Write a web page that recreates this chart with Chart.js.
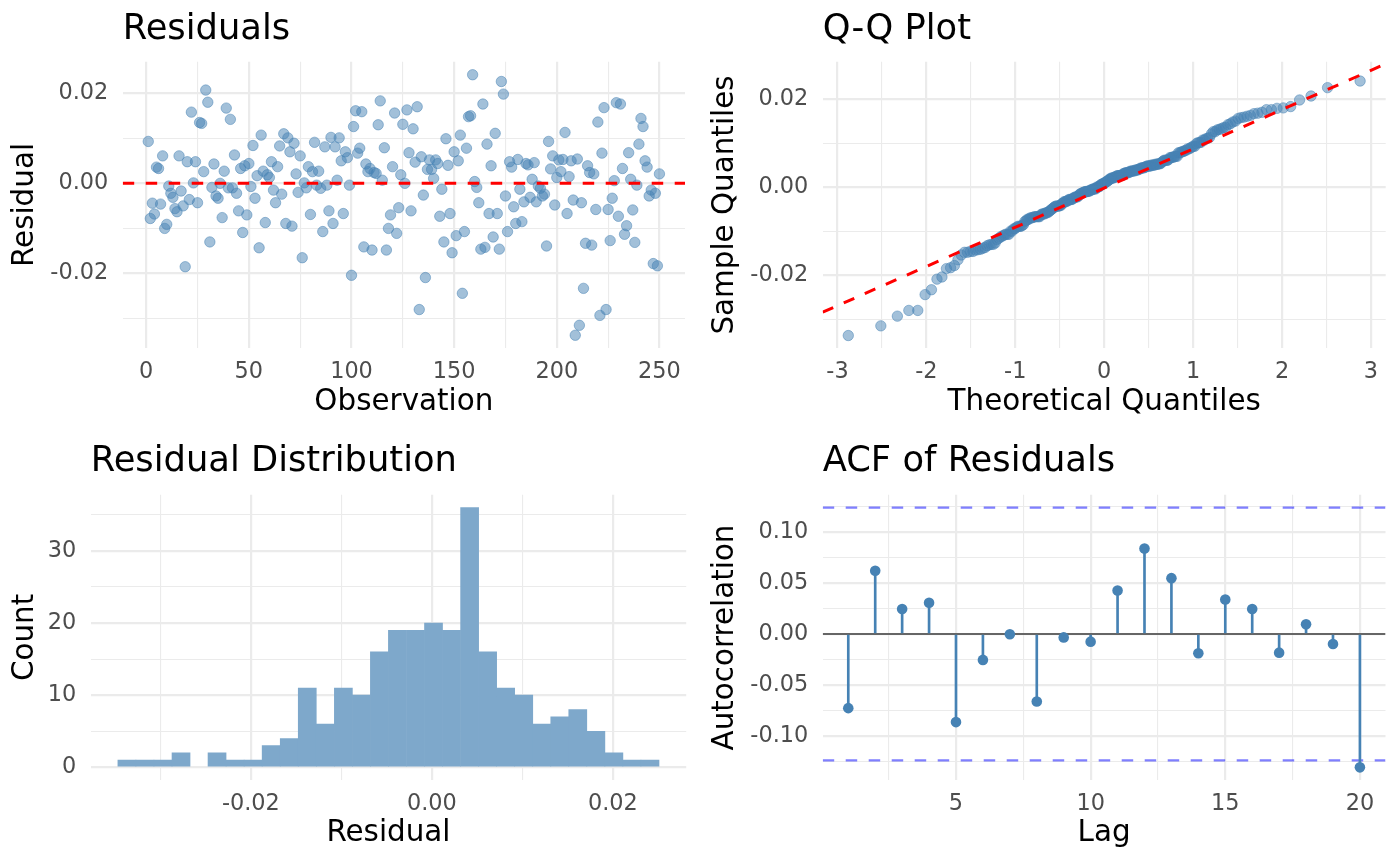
<!DOCTYPE html>
<html>
<head>
<meta charset="utf-8">
<script src="https://cdn.jsdelivr.net/npm/chart.js@4.4.1/dist/chart.umd.min.js"></script>
<style>
  html, body { margin: 0; padding: 0; background: #ffffff; }
  #wrap { position: relative; width: 1400px; height: 865px; overflow: hidden; }
  #wrap canvas { position: absolute; }
</style>
</head>
<body>
<div id="wrap">
  <canvas id="resPlot"  width="700" height="432" style="left:0px;top:0px"></canvas>
  <canvas id="qqPlot"   width="700" height="432" style="left:700px;top:0px"></canvas>
  <canvas id="histPlot" width="700" height="433" style="left:0px;top:432px"></canvas>
  <canvas id="acfPlot"  width="700" height="433" style="left:700px;top:432px"></canvas>
</div>
<script>
/* Data */

// Residual per observation (observation = index + 1)
const residuals = [
   0.0093, -0.0078, -0.0044, -0.0068,  0.0036,  0.0033, -0.0046,  0.0061, -0.0100, -0.0091,
  -0.0006, -0.0022, -0.0031, -0.0056, -0.0063,  0.0061, -0.0017, -0.0050, -0.0185,  0.0048,
  -0.0036,  0.0158,  0.0001,  0.0048, -0.0043,  0.0135,  0.0133,  0.0026,  0.0207,  0.0180,
  -0.0130, -0.0009,  0.0043, -0.0028, -0.0033,  0.0000, -0.0076,  0.0027,  0.0167, -0.0010,
   0.0142, -0.0010,  0.0063, -0.0022, -0.0061,  0.0033, -0.0109,  0.0039, -0.0070,  0.0044,
  -0.0007,  0.0084, -0.0033,  0.0017, -0.0143,  0.0107,  0.0027, -0.0087,  0.0019,  0.0013,
   0.0048, -0.0015, -0.0043,  0.0037,  0.0083, -0.0024,  0.0110, -0.0089,  0.0101,  0.0070,
  -0.0095,  0.0089,  0.0021, -0.0020,  0.0061, -0.0165,  0.0001, -0.0010,  0.0037, -0.0069,
   0.0026,  0.0091, -0.0004,  0.0027, -0.0011, -0.0107,  0.0081, -0.0004, -0.0061,  0.0102,
  -0.0089,  0.0081,  0.0007,  0.0101,  0.0050, -0.0067,  0.0070,  0.0057, -0.0004, -0.0204,
   0.0126,  0.0161,  0.0067,  0.0078,  0.0159, -0.0141,  0.0043,  0.0026,  0.0033, -0.0148,
   0.0024,  0.0022,  0.0130,  0.0183,  0.0007,  0.0079, -0.0148, -0.0100, -0.0070,  0.0037,
   0.0156, -0.0111, -0.0054,  0.0019,  0.0131,  0.0000,  0.0163,  0.0068, -0.0061,  0.0121,
   0.0047,  0.0170, -0.0280,  0.0059, -0.0026, -0.0209,  0.0031,  0.0052,  0.0031,  0.0011,
   0.0052,  0.0044, -0.0073, -0.0013, -0.0130,  0.0099,  0.0040, -0.0067, -0.0154,  0.0070,
  -0.0116,  0.0050,  0.0107, -0.0244, -0.0107,  0.0078,  0.0148,  0.0150,  0.0241,  0.0004,
  -0.0009, -0.0043, -0.0146,  0.0176, -0.0142,  0.0087, -0.0067,  0.0039, -0.0119,  0.0111,
  -0.0067, -0.0146,  0.0226,  0.0198, -0.0028, -0.0107,  0.0048,  0.0036, -0.0052, -0.0089,
   0.0053, -0.0013, -0.0085, -0.0041,  0.0044,  0.0041, -0.0031,  0.0009,  0.0046, -0.0041,
  -0.0006, -0.0011, -0.0028, -0.0024, -0.0139,  0.0093,  0.0032,  0.0061, -0.0048,  0.0013,
   0.0052,  0.0026,  0.0053,  0.0113, -0.0067,  0.0015,  0.0050, -0.0037, -0.0337,  0.0054,
  -0.0315, -0.0043, -0.0233, -0.0133,  0.0039,  0.0024, -0.0137,  0.0021, -0.0058,  0.0136,
  -0.0293,  0.0067,  0.0168, -0.0280, -0.0058, -0.0127, -0.0033,  0.0006,  0.0179, -0.0073,
   0.0176,  0.0033, -0.0113, -0.0094,  0.0068,  0.0009, -0.0059, -0.0131, -0.0004,  0.0087,
   0.0144,  0.0126,  0.0050,  0.0036, -0.0028, -0.0015, -0.0178, -0.0022, -0.0183,  0.0021
];

// Q-Q reference line (read at both panel edges)
const qqLineX = [-3.166, 3.166];
const qqLineY = [-0.0284, 0.0280];

// Histogram: 30 bins
const histBinCenters = [
  -0.03370, -0.03171, -0.02971, -0.02772, -0.02573, -0.02374, -0.02174, -0.01975, -0.01776, -0.01576,
  -0.01377, -0.01178, -0.00978, -0.00779, -0.00580, -0.00381, -0.00181,  0.00018,  0.00217,  0.00417,
   0.00616,  0.00815,  0.01015,  0.01214,  0.01413,  0.01612,  0.01812,  0.02011,  0.02210,  0.02410
];
const histCounts = [1, 1, 1, 2, 0, 2, 1, 1, 3, 4, 11, 6, 11, 10, 16, 19, 19, 20, 19, 36, 16, 11, 10, 6, 7, 8, 5, 2, 1, 1];

// ACF
const acfLags = [1, 2, 3, 4, 5, 6, 7, 8, 9, 10, 11, 12, 13, 14, 15, 16, 17, 18, 19, 20];
const acfValues = [-0.0727, 0.0620, 0.0245, 0.0307, -0.0864, -0.0254, -0.0003, -0.0662, -0.0033, -0.0075,
                   0.0427, 0.0838, 0.0548, -0.0189, 0.0339, 0.0245, -0.0183, 0.0095, -0.0098, -0.1308];
const acfBound = 0.124;

// Tick positions and labels
const resXMajor = [0, 50, 100, 150, 200, 250];
const resXLabels = ['0', '50', '100', '150', '200', '250'];
const resXMinor = [25, 75, 125, 175, 225];
const resYMajor = [-0.02, 0, 0.02];
const resYLabels = ['-0.02', '0.00', '0.02'];
const resYMinor = [-0.03, -0.01, 0.01];
const qqXMajor = [-3, -2, -1, 0, 1, 2, 3];
const qqXLabels = ['-3', '-2', '-1', '0', '1', '2', '3'];
const qqXMinor = [-2.5, -1.5, -0.5, 0.5, 1.5, 2.5];
const histXMajor = [-0.02, 0, 0.02];
const histXLabels = ['-0.02', '0.00', '0.02'];
const histXMinor = [-0.03, -0.01, 0.01];
const histYMajor = [0, 10, 20, 30];
const histYLabels = ['0', '10', '20', '30'];
const histYMinor = [5, 15, 25, 35];
const acfXMajor = [5, 10, 15, 20];
const acfXLabels = ['5', '10', '15', '20'];
const acfXMinor = [2.5, 7.5, 12.5, 17.5];
const acfYMajor = [-0.10, -0.05, 0, 0.05, 0.10];
const acfYLabels = ['-0.10', '-0.05', '0.00', '0.05', '0.10'];
const acfYMinor = [-0.125, -0.075, -0.025, 0.025, 0.075, 0.125];

/* Styling */
const FONT = "'DejaVu Sans', 'Liberation Sans', sans-serif";
const STEEL = 'rgb(70,130,180)';
const STEEL_HALF = 'rgba(70,130,180,0.5)';
const HIST_FILL = 'rgb(126,168,203)';   // steelblue at 0.7 alpha over white
const GRID = '#EBEBEB';
const TICK = '#4D4D4D';

Chart.defaults.font.family = FONT;
Chart.defaults.color = TICK;
Chart.defaults.animation = false;

// inverse normal CDF (Acklam), used for the theoretical quantiles of the Q-Q plot
function qnorm(p) {
  const a = [-3.969683028665376e+01, 2.209460984245205e+02, -2.759285104469687e+02, 1.383577518672690e+02, -3.066479806614716e+01, 2.506628277459239e+00];
  const b = [-5.447609879822406e+01, 1.615858368580409e+02, -1.556989798598866e+02, 6.680131188771972e+01, -1.328068155288572e+01];
  const c = [-7.784894002430293e-03, -3.223964580411365e-01, -2.400758277161838e+00, -2.549732539343734e+00, 4.374664141464968e+00, 2.938163982698783e+00];
  const d = [7.784695709041462e-03, 3.224671290700398e-01, 2.445134137142996e+00, 3.754408661907416e+00];
  const plow = 0.02425;
  let q, r;
  if (p < plow) {
    q = Math.sqrt(-2 * Math.log(p));
    return (((((c[0]*q+c[1])*q+c[2])*q+c[3])*q+c[4])*q+c[5]) / ((((d[0]*q+d[1])*q+d[2])*q+d[3])*q+1);
  }
  if (p > 1 - plow) {
    q = Math.sqrt(-2 * Math.log(1 - p));
    return -(((((c[0]*q+c[1])*q+c[2])*q+c[3])*q+c[4])*q+c[5]) / ((((d[0]*q+d[1])*q+d[2])*q+d[3])*q+1);
  }
  q = p - 0.5; r = q * q;
  return (((((a[0]*r+a[1])*r+a[2])*r+a[3])*r+a[4])*r+a[5])*q / (((((b[0]*r+b[1])*r+b[2])*r+b[3])*r+b[4])*r+1);
}

// one axis with major + minor grid lines, ggplot minimal look
function axis(cfg) {
  const all = cfg.major.concat(cfg.minor).sort((p, q) => p - q);
  return {
    type: 'linear',
    min: cfg.min,
    max: cfg.max,
    offset: false,
    border: { display: false },
    grid: {
      color: GRID,
      drawTicks: false,
      offset: false,
      lineWidth: ctx => (ctx.tick && cfg.major.includes(ctx.tick.value)) ? 2.2 : 1.1
    },
    ticks: {
      color: TICK,
      font: { family: FONT, size: 22.4 },
      padding: cfg.pad,
      autoSkip: false,
      maxRotation: 0,
      minRotation: 0,
      includeBounds: false,
      callback: v => {
        const i = cfg.major.indexOf(v);
        return i < 0 ? '' : cfg.labels[i];
      }
    },
    title: {
      display: true,
      text: cfg.title,
      color: '#000000',
      font: { family: FONT, size: 29.4, lineHeight: 1.2 },
      padding: cfg.titlePad
    },
    afterBuildTicks: s => { s.ticks = all.map(v => ({ value: v })); },
    afterFit: s => {
      if (cfg.width != null) s.width = cfg.width;
      if (cfg.height != null) s.height = cfg.height;
    }
  };
}

function plotTitle(text, padBottom) {
  return {
    display: true,
    text: text,
    align: 'start',
    fullSize: false,
    color: '#000000',
    font: { family: FONT, size: 35.3, weight: 'normal', lineHeight: 1.2 },
    padding: { top: 8.8, bottom: padBottom }
  };
}

function hline(x0, x1, y, color, width, dash, order) {
  return {
    type: 'line',
    data: [{ x: x0, y: y }, { x: x1, y: y }],
    borderColor: color,
    borderWidth: width,
    borderDash: dash,
    pointRadius: 0,
    fill: false,
    order: order
  };
}

const basePlugins = { legend: { display: false }, tooltip: { enabled: false } };

/* Residuals vs observation */
const resPoints = residuals.map((v, i) => ({ x: i + 1, y: v }));
new Chart(document.getElementById('resPlot'), {
  type: 'scatter',
  data: {
    datasets: [
      hline(-11.45, 262.45, 0, '#FF0000', 3, [11.5, 11.5], 0),
      {
        data: resPoints,
        pointRadius: 5.2,
        pointBorderWidth: 1,
        pointBackgroundColor: STEEL_HALF,
        pointBorderColor: STEEL_HALF,
        order: 1
      }
    ]
  },
  options: {
    responsive: false,
    events: [],
    layout: { padding: { left: 0, right: 15, top: 0, bottom: 0 } },
    plugins: Object.assign({ title: plotTitle('Residuals', 10.5) }, basePlugins),
    scales: {
      x: axis({ min: -11.45, max: 262.45, major: resXMajor, minor: resXMinor, labels: resXLabels,
                title: 'Observation', pad: 10, titlePad: { top: 0, bottom: 12.4 }, height: 83.7 }),
      y: axis({ min: -0.0366, max: 0.0270, major: resYMajor, minor: resYMinor, labels: resYLabels,
                title: 'Residual', pad: 14.4, titlePad: { top: 8.2, bottom: 0 }, width: 122.7 })
    }
  }
});

/* Q-Q plot: sorted residuals against normal quantiles */
const sortedRes = residuals.slice().sort((p, q) => p - q);
const qqPoints = sortedRes.map((v, i) => ({ x: qnorm((i + 0.5) / sortedRes.length), y: v }));
new Chart(document.getElementById('qqPlot'), {
  type: 'scatter',
  data: {
    datasets: [
      {
        type: 'line',
        data: qqLineX.map((x, i) => ({ x: x, y: qqLineY[i] })),
        borderColor: '#FF0000',
        borderWidth: 3,
        borderDash: [11.5, 11.5],
        pointRadius: 0,
        fill: false,
        order: 0
      },
      {
        data: qqPoints,
        pointRadius: 5.2,
        pointBorderWidth: 1,
        pointBackgroundColor: STEEL_HALF,
        pointBorderColor: STEEL_HALF,
        order: 1
      }
    ]
  },
  options: {
    responsive: false,
    events: [],
    layout: { padding: { left: 0, right: 14.3, top: 0, bottom: 0 } },
    plugins: Object.assign({ title: plotTitle('Q-Q Plot', 10.5) }, basePlugins),
    scales: {
      x: axis({ min: -3.166, max: 3.166, major: qqXMajor, minor: qqXMinor, labels: qqXLabels,
                title: 'Theoretical Quantiles', pad: 10, titlePad: { top: 0, bottom: 12.4 }, height: 83.7 }),
      y: axis({ min: -0.0366, max: 0.0285, major: resYMajor, minor: resYMinor, labels: resYLabels,
                title: 'Sample Quantiles', pad: 14.4, titlePad: { top: 8.2, bottom: 0 }, width: 122.7 })
    }
  }
});

/* Residual distribution histogram */
new Chart(document.getElementById('histPlot'), {
  type: 'bar',
  data: {
    datasets: [{
      data: histBinCenters.map((c, i) => ({ x: c, y: histCounts[i] })),
      backgroundColor: ctx => (ctx.raw && ctx.raw.y === 0) ? 'rgba(0,0,0,0)' : HIST_FILL,
      borderWidth: 0,
      barPercentage: 1,
      categoryPercentage: 1
    }]
  },
  options: {
    responsive: false,
    events: [],
    layout: { padding: { left: 0, right: 13.8, top: 0, bottom: 0 } },
    plugins: Object.assign({ title: plotTitle('Residual Distribution', 11.5) }, basePlugins),
    scales: {
      x: axis({ min: -0.0377, max: 0.0281, major: histXMajor, minor: histXMinor, labels: histXLabels,
                title: 'Residual', pad: 10, titlePad: { top: 0, bottom: 14.4 }, height: 84.7 }),
      y: axis({ min: -1.8, max: 37.8, major: histYMajor, minor: histYMinor, labels: histYLabels,
                title: 'Count', pad: 14.4, titlePad: { top: 8.2, bottom: 0 }, width: 90.7 })
    }
  }
});

/* ACF of residuals */
new Chart(document.getElementById('acfPlot'), {
  type: 'bar',
  data: {
    datasets: [
      {
        type: 'scatter',
        data: acfLags.map((l, i) => ({ x: l, y: acfValues[i] })),
        pointRadius: 5.3,
        pointBorderWidth: 0,
        pointBackgroundColor: STEEL,
        order: 0
      },
      {
        type: 'bar',
        data: acfLags.map((l, i) => ({ x: l, y: acfValues[i] })),
        backgroundColor: STEEL,
        borderWidth: 0,
        barThickness: 2,
        order: 1
      },
      hline(0.05, 20.95, 0, '#666666', 2.2, [], 2),
      hline(0.05, 20.95, acfBound, 'rgba(0,0,255,0.5)', 2.2, [11.5, 11.5], 3),
      hline(0.05, 20.95, -acfBound, 'rgba(0,0,255,0.5)', 2.2, [11.5, 11.5], 3)
    ]
  },
  options: {
    responsive: false,
    events: [],
    layout: { padding: { left: 0, right: 14.5, top: 0, bottom: 0 } },
    plugins: Object.assign({ title: plotTitle('ACF of Residuals', 11.5) }, basePlugins),
    scales: {
      x: axis({ min: 0.05, max: 20.95, major: acfXMajor, minor: acfXMinor, labels: acfXLabels,
                title: 'Lag', pad: 10, titlePad: { top: 0, bottom: 14.4 }, height: 84.7 }),
      y: axis({ min: -0.1435, max: 0.1367, major: acfYMajor, minor: acfYMinor, labels: acfYLabels,
                title: 'Autocorrelation', pad: 14.4, titlePad: { top: 8.2, bottom: 0 }, width: 122.7 })
    }
  }
});
</script>
</body>
</html>
